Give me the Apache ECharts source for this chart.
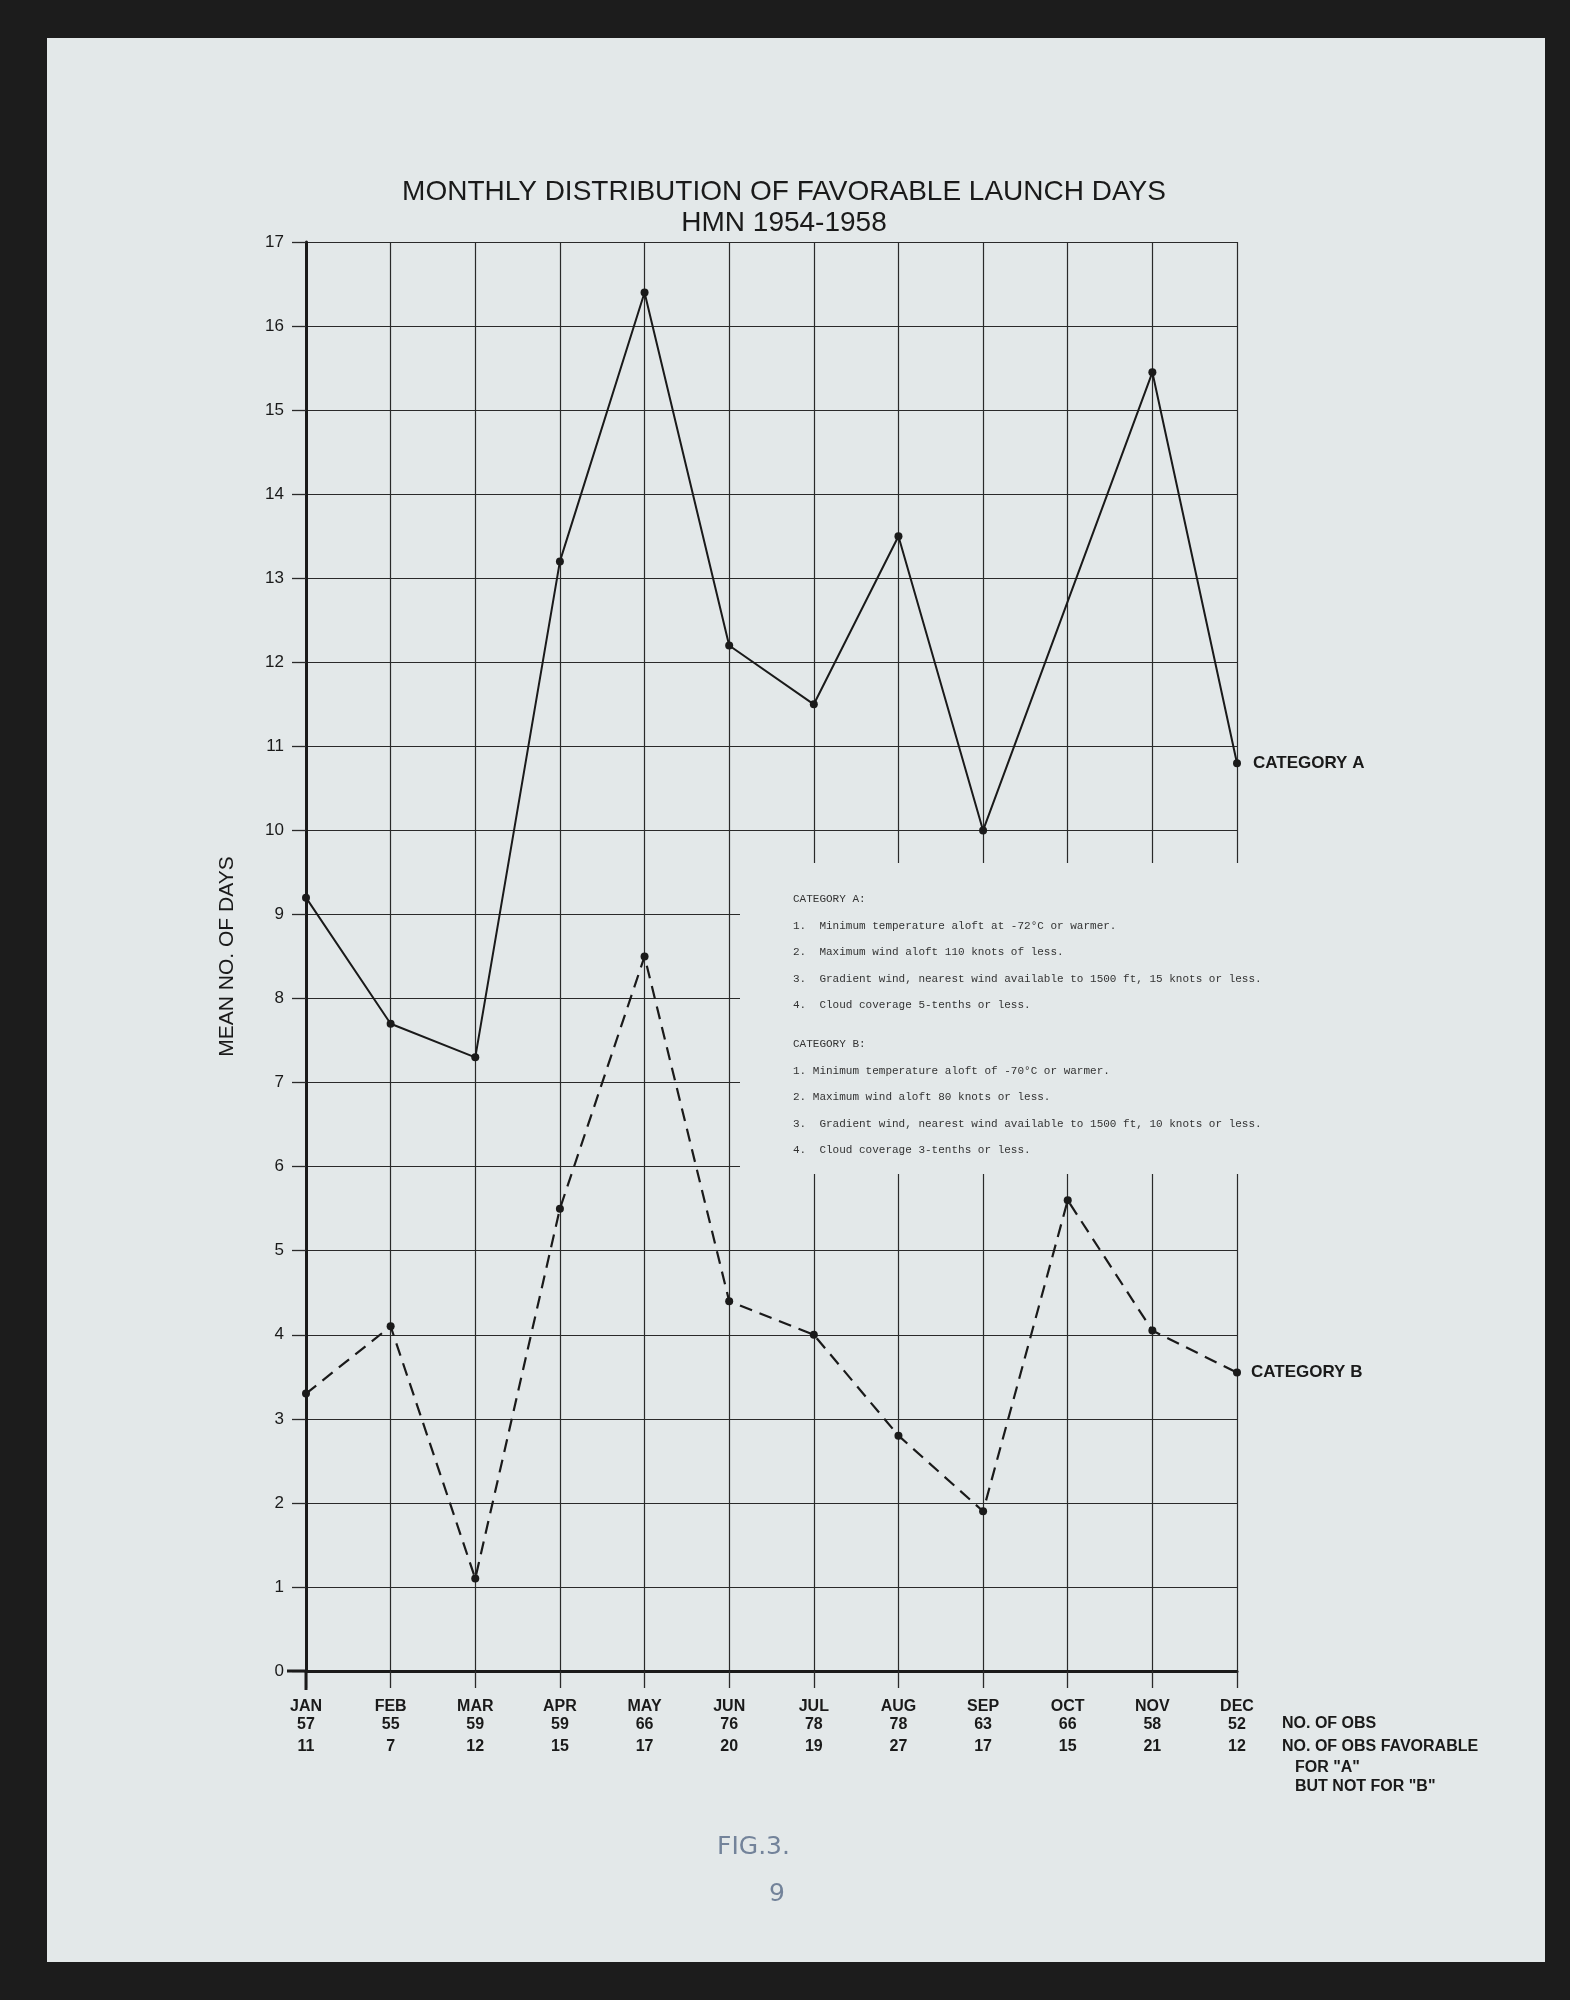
<!DOCTYPE html>
<html lang="en">
<head>
    <meta charset="UTF-8">
    <title>Monthly distribution of favorable launch days</title>
    <style>
        html, body {
            margin: 0;
            padding: 0;
            background: #1c1c1c;
        }

        #page {
            position: absolute;
            left: 47px;
            top: 38px;
            width: 1498px;
            height: 1924px;
            background: #e3e8e9;
        }

        #box {
            position: absolute;
            left: 0;
            top: 0;
            width: 1570px;
            height: 2000px;
        }
    </style>
</head>
<body>
    <div id="page"></div>
    <div id="box"></div>
    <script src="https://cdn.jsdelivr.net/npm/echarts@6/dist/echarts.min.js"></script>
    <script>
        // values
        var months = ['JAN', 'FEB', 'MAR', 'APR', 'MAY', 'JUN', 'JUL', 'AUG', 'SEP', 'OCT', 'NOV', 'DEC'];
        var obsCount = [57, 55, 59, 59, 66, 76, 78, 78, 63, 66, 58, 52];
        var favAnotB = [11, 7, 12, 15, 17, 20, 19, 27, 17, 15, 21, 12];
        // no point plotted in OCT for category A, the line runs straight SEP -> NOV
        var catA = [9.2, 7.7, 7.3, 13.2, 16.4, 12.2, 11.5, 13.5, 10.0, null, 15.45, 10.8];
        var catB = [3.3, 4.1, 1.1, 5.5, 8.5, 4.4, 4.0, 2.8, 1.9, 5.6, 4.05, 3.55];

        var critA = [
            'CATEGORY A:',
            '1.  Minimum temperature aloft at -72°C or warmer.',
            '2.  Maximum wind aloft 110 knots of less.',
            '3.  Gradient wind, nearest wind available to 1500 ft, 15 knots or less.',
            '4.  Cloud coverage 5-tenths or less.'
        ];
        var critB = [
            'CATEGORY B:',
            '1. Minimum temperature aloft of -70°C or warmer.',
            '2. Maximum wind aloft 80 knots or less.',
            '3.  Gradient wind, nearest wind available to 1500 ft, 10 knots or less.',
            '4.  Cloud coverage 3-tenths or less.'
        ];

        var ink = '#1a1a1a';
        var paper = '#e3e8e9';
        var sans = '"Liberation Sans", Arial, sans-serif';
        var mono = '"Liberation Mono", "DejaVu Sans Mono", monospace';

        var chartDom = document.getElementById('box');
        var myChart = echarts.init(chartDom, null, { renderer: 'canvas' });

        var option = {
            backgroundColor: 'transparent',
            animation: false,
            title: {
                text: 'MONTHLY DISTRIBUTION OF FAVORABLE LAUNCH DAYS\nHMN 1954-1958',
                left: 779,
                top: 172,
                textAlign: 'center',
                textStyle: {
                    fontFamily: sans,
                    fontSize: 28,
                    fontWeight: 'normal',
                    color: ink,
                    lineHeight: 31
                }
            },
            grid: {
                left: 306,
                right: 333,
                top: 242,
                bottom: 329
            },
            xAxis: {
                type: 'category',
                data: months,
                boundaryGap: false,
                axisLine: { lineStyle: { color: ink, width: 3 } },
                axisTick: { length: 17, lineStyle: { color: '#2a2a2a', width: 1.3 } },
                splitLine: { show: true, lineStyle: { color: '#2a2a2a', width: 1.2 } },
                axisLabel: {
                    margin: 27,
                    interval: 0,
                    formatter: function (v, i) {
                        return '{m|' + v + '}\n{o|' + obsCount[i] + '}\n{f|' + favAnotB[i] + '}';
                    },
                    rich: {
                        m: { fontFamily: sans, fontSize: 16, fontWeight: 'bold', color: ink, lineHeight: 18 },
                        o: { fontFamily: sans, fontSize: 16, fontWeight: 'bold', color: ink, lineHeight: 18 },
                        f: { fontFamily: sans, fontSize: 16, fontWeight: 'bold', color: ink, lineHeight: 26 }
                    }
                }
            },
            yAxis: {
                type: 'value',
                min: 0,
                max: 17,
                interval: 1,
                name: 'MEAN NO. OF DAYS',
                nameLocation: 'middle',
                nameRotate: 90,
                nameGap: 68,
                nameTextStyle: { fontFamily: sans, fontSize: 21, color: ink },
                axisLine: { show: true, lineStyle: { color: ink, width: 3 } },
                axisTick: { show: true, length: 14, lineStyle: { color: '#2a2a2a', width: 1.3 } },
                splitLine: { lineStyle: { color: '#2a2a2a', width: 1.2 } },
                axisLabel: {
                    margin: 22,
                    fontFamily: sans,
                    fontSize: 17,
                    color: ink
                }
            },
            graphic: [
                // criteria panel blanks the grid behind it
                {
                    type: 'rect', z: 1,
                    shape: { x: 740, y: 863, width: 560, height: 311 },
                    style: { fill: paper }
                },
                {
                    type: 'text', z: 3, left: 793, top: 886,
                    style: { text: critA.join('\n'), font: '11px ' + mono, fill: '#333', lineHeight: 26.5 }
                },
                {
                    type: 'text', z: 3, left: 793, top: 1031,
                    style: { text: critB.join('\n'), font: '11px ' + mono, fill: '#333', lineHeight: 26.5 }
                },
                // axis stubs past the origin
                {
                    type: 'line', z: 3,
                    shape: { x1: 287, y1: 1671, x2: 306, y2: 1671 },
                    style: { stroke: ink, lineWidth: 3 }
                },
                {
                    type: 'line', z: 3,
                    shape: { x1: 306, y1: 1671, x2: 306, y2: 1690 },
                    style: { stroke: ink, lineWidth: 3 }
                },
                {
                    type: 'text', z: 3, left: 1282, top: 1716,
                    style: { text: 'NO. OF OBS', font: 'bold 16px ' + sans, fill: ink }
                },
                {
                    type: 'text', z: 3, left: 1282, top: 1739,
                    style: { text: 'NO. OF OBS FAVORABLE', font: 'bold 16px ' + sans, fill: ink }
                },
                {
                    type: 'text', z: 3, left: 1295, top: 1758,
                    style: { text: 'FOR "A"\nBUT NOT FOR "B"', font: 'bold 16px ' + sans, fill: ink, lineHeight: 19 }
                },
                // pencil marks at the foot of the sheet
                {
                    type: 'text', z: 3, left: 717, top: 1835,
                    style: { text: 'FIG.3.', font: '25px "DejaVu Sans", sans-serif', fill: '#73839a' }
                },
                {
                    type: 'text', z: 3, left: 769, top: 1882,
                    style: { text: '9', font: '25px "DejaVu Sans", sans-serif', fill: '#73839a' }
                }
            ],
            series: [
                {
                    name: 'CATEGORY A',
                    type: 'line',
                    data: catA,
                    connectNulls: true,
                    z: 4,
                    symbol: 'circle',
                    symbolSize: 8,
                    itemStyle: { color: ink },
                    lineStyle: { color: ink, width: 2 },
                    endLabel: {
                        show: true,
                        formatter: 'CATEGORY A',
                        distance: 16,
                        fontFamily: sans,
                        fontSize: 17,
                        fontWeight: 'bold',
                        color: ink
                    }
                },
                {
                    name: 'CATEGORY B',
                    type: 'line',
                    data: catB,
                    z: 4,
                    symbol: 'circle',
                    symbolSize: 8,
                    itemStyle: { color: ink },
                    lineStyle: { color: ink, width: 2.2, type: [13, 8] },
                    endLabel: {
                        show: true,
                        formatter: 'CATEGORY B',
                        distance: 14,
                        fontFamily: sans,
                        fontSize: 17,
                        fontWeight: 'bold',
                        color: ink
                    }
                }
            ]
        };

        option && myChart.setOption(option);
    </script>
</body>
</html>
